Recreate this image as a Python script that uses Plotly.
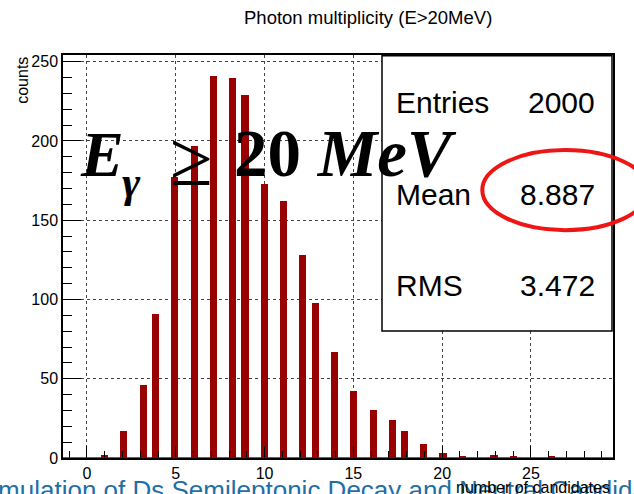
import plotly.graph_objects as go

# Histogram contents: bin centres (number of photon candidates) and counts
bin_centers = [0.99, 2.08, 3.17, 3.87, 4.94, 6.03, 7.12, 8.19, 8.90, 9.98,
               11.05, 12.13, 12.87, 13.95, 15.02, 16.11, 17.18, 17.88, 18.96,
               20.05, 21.13, 22.92, 24.00, 26.18]
counts = [2, 17, 46, 91, 177, 197, 241, 240, 229, 173,
          162, 128, 98, 67, 42, 30, 24, 17, 9,
          3, 1, 2, 1, 1]

x_ticks = [0, 5, 10, 15, 20, 25]
y_ticks = [0, 50, 100, 150, 200, 250]

stats_labels = ["Entries", "Mean", "RMS"]
stats_values = ["2000", "8.887", "3.472"]

title_text = "Photon multiplicity (E>20MeV)"
x_title = "number of candidates"
y_title = "counts"
slide_caption = "Simulation of Ds Semileptonic Decay and Neutral Candidates"

W, H = 634, 494
L, R, T, B = 62.7, 612.7, 55.0, 457.7   # plot frame in pixels


def px(x):
    return (x - L) / (R - L)


def py(y):
    return (B - y) / (B - T)


fig = go.Figure()
fig.add_trace(go.Bar(
    x=bin_centers, y=counts, width=0.40,
    marker=dict(color="#990000", line=dict(width=0)),
    showlegend=False,
))

axis_common = dict(
    showline=True, linecolor="black", linewidth=1.5, mirror=True,
    ticks="inside", tickcolor="black", tickwidth=1,
    showgrid=True, gridcolor="#444444", griddash="dot", gridwidth=1,
    zeroline=False,
    tickfont=dict(family="Liberation Sans", size=16, color="black"),
)

fig.update_xaxes(
    range=[-1.35, 29.62], tickmode="array", tickvals=x_ticks, ticklen=12,
    minor=dict(dtick=1, tick0=0, ticklen=7, tickcolor="black", ticks="inside", showgrid=False),
    **axis_common,
)
fig.update_yaxes(
    range=[0, 254.2], tickmode="array", tickvals=y_ticks, ticklen=18,
    minor=dict(dtick=10, tick0=0, ticklen=9, tickcolor="black", ticks="inside", showgrid=False),
    **axis_common,
)

shapes = [
    # histogram baseline at zero
    dict(type="line", xref="paper", yref="y", x0=0, x1=1, y0=0, y1=0,
         line=dict(color="#990000", width=1.5), layer="above"),
    # statistics box
    dict(type="rect", xref="paper", yref="paper",
         x0=px(381.7), x1=px(611.7), y0=py(330.7), y1=py(55.7),
         fillcolor="white", line=dict(color="black", width=1.5), layer="above"),
    # highlight around the mean value
    dict(type="circle", xref="paper", yref="paper",
         x0=px(482), x1=px(648), y0=py(230), y1=py(150),
         line=dict(color="#ee1515", width=4), layer="above"),
]

ann = []
ann.append(dict(text=slide_caption, x=px(-27), y=py(473), xanchor="left", yanchor="top",
                font=dict(family="Liberation Sans", size=26, color="#1f6fa5")))
ann.append(dict(text=title_text, x=px(367.5), y=py(17.5), xanchor="center", yanchor="middle",
                font=dict(family="Liberation Sans", size=18.5, color="black")))
ann.append(dict(text=x_title, x=px(611.7), y=py(486.7), xanchor="right", yanchor="middle",
                font=dict(family="Liberation Sans", size=16, color="black")))
ann.append(dict(text=y_title, x=px(22), y=py(55), xanchor="center", yanchor="top",
                textangle=-90, font=dict(family="Liberation Sans", size=16, color="black")))

stat_rows_y = [102.5, 194.2, 285.8]
for lab, val, yy in zip(stats_labels, stats_values, stat_rows_y):
    ann.append(dict(text=lab, x=px(394), y=py(yy), xanchor="left", yanchor="middle",
                    font=dict(family="Liberation Sans", size=30, color="black")))
    ann.append(dict(text=val, x=px(596.7), y=py(yy), xanchor="right", yanchor="middle",
                    font=dict(family="Liberation Sans", size=30, color="black")))

# Big energy-threshold label
serif = "Liberation Serif"
ann.append(dict(text="<b><i>E</i></b>", x=px(78), y=py(154), xanchor="left", yanchor="middle",
                font=dict(family=serif, size=64, color="black")))
ann.append(dict(text="<b><i>γ</i></b>", x=px(120), y=py(182), xanchor="left", yanchor="middle",
                font=dict(family=serif, size=44, color="black")))
ann.append(dict(text="≥", x=px(168), y=py(158), xanchor="left", yanchor="middle",
                font=dict(family=serif, size=78, color="black")))
ann.append(dict(text="<b>20</b> <b><i>MeV</i></b>", x=px(232), y=py(153), xanchor="left", yanchor="middle",
                font=dict(family=serif, size=67, color="black")))

for a in ann:
    a.update(xref="paper", yref="paper", showarrow=False)

fig.update_layout(
    width=W, height=H,
    margin=dict(l=L, r=W - R, t=T, b=H - B, pad=0),
    plot_bgcolor="white", paper_bgcolor="white",
    shapes=shapes, annotations=ann,
    bargap=0,
)

fig.write_html("out.html")
